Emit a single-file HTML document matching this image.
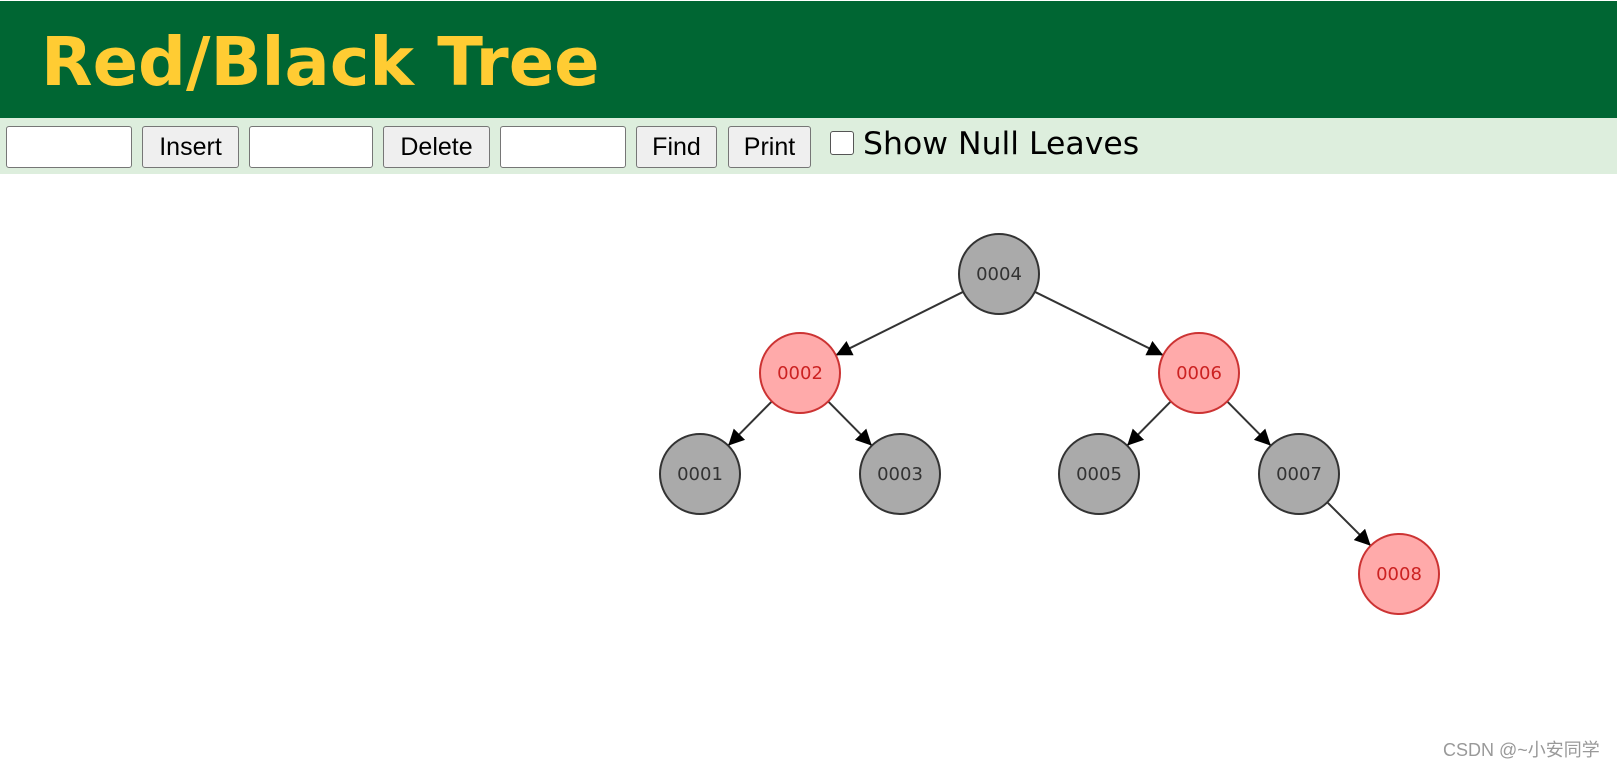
<!DOCTYPE html>
<html><head><meta charset="utf-8"><style>
body{margin:0;width:1617px;height:767px;background:#fff;position:relative;overflow:hidden;font-family:"Liberation Sans",sans-serif}
.hdr{position:absolute;left:0;top:1px;width:1617px;height:117px;background:#006633}
.title{position:absolute;left:41px;top:29px;font:bold 67px/66px "DejaVu Sans",sans-serif;color:#ffcc33;white-space:nowrap}
.bar{position:absolute;left:0;top:118px;width:1617px;height:56px;background:#ddeedd}
.in,.bt{position:absolute;top:126px;height:42px;box-sizing:border-box;border:1px solid #767676;border-radius:3px}
.in{background:#fff}
.bt{background:#efefef;font-size:25px;text-align:center;line-height:40px;color:#000}
.cb{position:absolute;left:830px;top:131px;width:24px;height:24px;box-sizing:border-box;border:1px solid #555;border-radius:3px;background:#fff}
.lbl{position:absolute;left:863px;top:129px;font:31.5px/31px "DejaVu Sans",sans-serif;color:#000;white-space:nowrap}
.wm{position:absolute;left:1443px;top:736px;font:18px "Liberation Sans","Noto Sans CJK SC",sans-serif;color:#999}
</style></head><body>
<div class="hdr"></div><div class="title">Red/Black Tree</div>
<div class="bar"></div>
<div class="in" style="left:6px;width:126px"></div>
<div class="bt" style="left:142px;width:97px">Insert</div>
<div class="in" style="left:249px;width:124px"></div>
<div class="bt" style="left:383px;width:107px">Delete</div>
<div class="in" style="left:500px;width:126px"></div>
<div class="bt" style="left:636px;width:81px">Find</div>
<div class="bt" style="left:728px;width:83px">Print</div>
<div class="cb"></div><div class="lbl">Show Null Leaves</div>
<svg width="1617" height="767" style="position:absolute;left:0;top:0">
<defs><marker id="a" markerWidth="16" markerHeight="16" refX="10" refY="5" orient="auto" markerUnits="userSpaceOnUse" viewBox="0 0 10 10"><path d="M0,0L10,5L0,10z" fill="#000"/></marker></defs>
<g stroke="#333" stroke-width="2" marker-end="url(#a)">
<line x1="963.2" y1="291.8" x2="835.8" y2="355.2"/>
<line x1="1034.8" y1="291.8" x2="1163.2" y2="355.2"/>
<line x1="771.8" y1="401.4" x2="728.2" y2="445.6"/>
<line x1="828.2" y1="401.4" x2="871.8" y2="445.6"/>
<line x1="1170.8" y1="401.4" x2="1127.2" y2="445.6"/>
<line x1="1227.2" y1="401.4" x2="1270.8" y2="445.6"/>
<line x1="1327.3" y1="502.3" x2="1370.7" y2="545.7"/>
</g>
<g font-family="DejaVu Sans,sans-serif" font-size="18" text-anchor="middle">
<g fill="#aaa" stroke="#333" stroke-width="2">
<circle cx="999" cy="274" r="40"/><circle cx="700" cy="474" r="40"/><circle cx="900" cy="474" r="40"/><circle cx="1099" cy="474" r="40"/><circle cx="1299" cy="474" r="40"/></g>
<g fill="#ffaaaa" stroke="#cc3333" stroke-width="2">
<circle cx="800" cy="373" r="40"/><circle cx="1199" cy="373" r="40"/><circle cx="1399" cy="574" r="40"/></g>
<g fill="#333"><text x="999" y="280">0004</text><text x="700" y="480">0001</text><text x="900" y="480">0003</text><text x="1099" y="480">0005</text><text x="1299" y="480">0007</text></g>
<g fill="#cc2222"><text x="800" y="379">0002</text><text x="1199" y="379">0006</text><text x="1399" y="580">0008</text></g>
</g></svg>
<div class="wm">CSDN @~小安同学</div>
</body></html>
